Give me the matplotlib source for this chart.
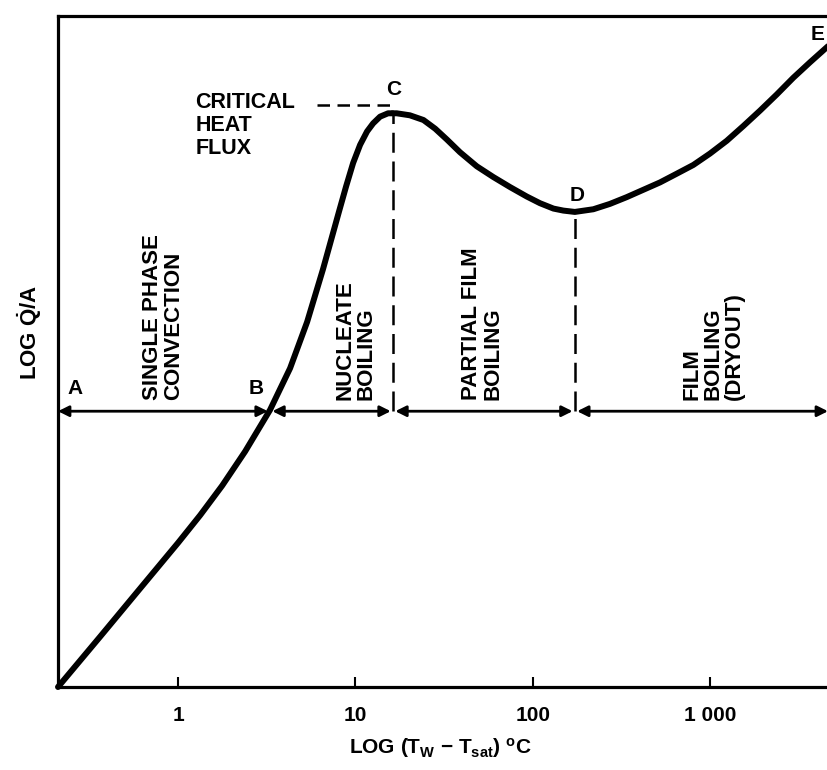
import matplotlib
matplotlib.use("Agg")
import matplotlib.pyplot as plt

# boiling curve: wall superheat (degC) vs log heat flux (arbitrary 0-100)
delta_t = [0.21, 0.363, 0.611, 1.0, 1.331, 1.771, 2.387, 3.30, 4.28, 5.34,
           6.57, 8.09, 8.86, 9.71, 10.63, 11.64, 12.59, 13.78, 15.29, 17.1,
           20.3, 24.2, 28.2, 32.8, 38.9, 48.4, 60.0, 74.6, 92.6, 110,
           131, 149, 173, 220, 273, 339, 421, 523, 650, 806,
           1001, 1244, 1543, 1917, 2381, 2954, 3669, 4636]
log_q = [0.0, 7.5, 14.7, 21.5, 25.6, 30.0, 35.1, 41.3, 47.5, 54.4,
         62.3, 70.9, 74.6, 78.1, 80.8, 82.8, 84.0, 85.0, 85.5, 85.5,
         85.2, 84.5, 83.2, 81.6, 79.7, 77.6, 76.0, 74.5, 73.1, 72.1,
         71.3, 71.0, 70.8, 71.2, 72.0, 73.0, 74.1, 75.2, 76.5, 77.8,
         79.5, 81.4, 83.6, 85.9, 88.3, 90.8, 93.1, 95.5]

# regime boundaries (A, B, C, D, end) along the arrow line
bound_t = [0.21, 3.30, 16.3, 173, 4636]
arrow_q = 41.1
chf_t, chf_q = 16.3, 85.4
min_t, min_q = 173, 70.8

regimes = ["SINGLE PHASE\nCONVECTION", "NUCLEATE\nBOILING",
           "PARTIAL FILM\nBOILING", "FILM\nBOILING\n(DRYOUT)"]
regime_t = [0.823, 10.0, 51.8, 1041]

tick_vals = [1, 10, 100, 1000]
tick_labels = ["1", "10", "100", "1 000"]

plt.rcParams["font.family"] = ["Liberation Sans", "DejaVu Sans"]
plt.rcParams["font.weight"] = "bold"
plt.rcParams["mathtext.fontset"] = "custom"
plt.rcParams["mathtext.rm"] = "Liberation Sans:bold"
plt.rcParams["mathtext.bf"] = "Liberation Sans:bold"
plt.rcParams["mathtext.it"] = "Liberation Sans:bold"
plt.rcParams["mathtext.default"] = "bf"

fig = plt.figure(figsize=(8.28, 7.70), dpi=100)
ax = fig.add_axes([58 / 828, 1 - 687 / 770, 770 / 828, 671 / 770])

ax.set_xscale("log")
ax.set_xlim(0.21, 4636)
ax.set_ylim(0, 100)

# main curve
ax.plot(delta_t, log_q, color="black", lw=4.3, solid_capstyle="round",
        solid_joinstyle="round", clip_on=False, zorder=5)

# regime arrows
gap = 1.03
for i in range(len(bound_t) - 1):
    x1 = bound_t[i] * (gap if i > 0 else 1.0)
    x2 = bound_t[i + 1] / (gap if i < len(bound_t) - 2 else 1.0)
    ax.annotate("", xy=(x2, arrow_q), xytext=(x1, arrow_q),
                arrowprops=dict(arrowstyle="<|-|>", lw=2, color="black",
                                shrinkA=0, shrinkB=0, mutation_scale=16),
                annotation_clip=False)

# dashed verticals at C and D
ax.plot([chf_t, chf_t], [arrow_q, chf_q], color="black", lw=1.8,
        dashes=(8, 3.5))
ax.plot([min_t, min_t], [arrow_q, min_q], color="black", lw=1.8,
        dashes=(8, 3.5))
# leader from CRITICAL HEAT FLUX label
ax.plot([6.08, chf_t * 0.985, chf_t * 0.985], [86.7, 86.7, chf_q],
        color="black", lw=1.8, dashes=(5, 3))

ax.text(1.247, 88.7, "CRITICAL\nHEAT\nFLUX", fontsize=15.5, ha="left",
        va="top", linespacing=1.12)

# point letters
ax.text(0.262, 43, "A", fontsize=15, ha="center", va="bottom")
ax.text(2.75, 43, "B", fontsize=15, ha="center", va="bottom")
ax.text(16.5, 87.7, "C", fontsize=15, ha="center", va="bottom")
ax.text(178, 71.8, "D", fontsize=15, ha="center", va="bottom")
ax.text(4070, 97.2, "E", fontsize=15, ha="center", va="center")

for lab, xt in zip(regimes, regime_t):
    ax.text(xt, 42.8, lab, fontsize=16, rotation=90, ha="center",
            va="bottom", multialignment="left", linespacing=1.0)

ax.set_xticks(tick_vals)
ax.set_xticklabels(tick_labels, fontsize=15)
ax.minorticks_off()
ax.tick_params(axis="x", direction="in", length=7, width=1.5, pad=14)
ax.set_yticks([])

for side in ["left", "bottom", "top"]:
    ax.spines[side].set_linewidth(2.3)
ax.spines["right"].set_visible(False)

fig.text(440 / 828, 1 - 748 / 770, r"LOG (T$_{W}$ $-$ T$_{sat}$) $^{o}$C",
         fontsize=15, ha="center", va="center")
fig.text(30 / 828, 1 - 332 / 770, r"LOG $\dot{Q}$/A", fontsize=16,
         rotation=90, ha="center", va="center")

fig.savefig("out.png", dpi=100)
